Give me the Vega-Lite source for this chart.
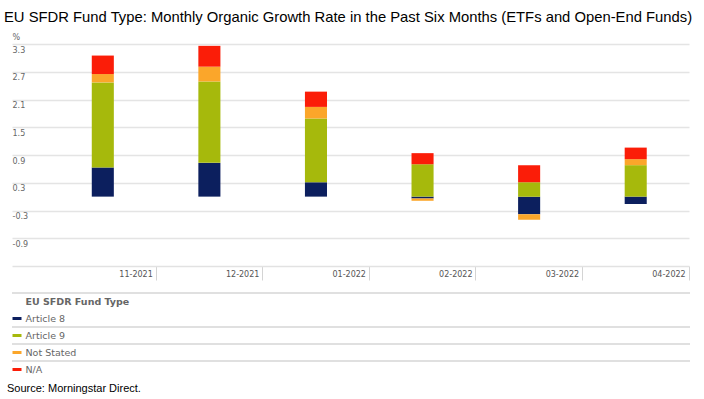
{
  "$schema": "https://vega.github.io/schema/vega-lite/v6.json",
  "background": "white",
  "padding": {"left": 4, "top": 9, "right": 10, "bottom": 4},
  "title": {
    "text": "EU SFDR Fund Type: Monthly Organic Growth Rate in the Past Six Months (ETFs and Open-End Funds)",
    "anchor": "start",
    "font": "Liberation Sans",
    "fontSize": 14.8,
    "fontWeight": "normal",
    "color": "#000000",
    "offset": 8.5
  },
  "config": {"view": {"stroke": null}, "concat": {"spacing": 11}},
  "datasets": {
    "flows": [
      {"month": "11-2021", "type": "Article 8", "growth": 0.63},
      {"month": "11-2021", "type": "Article 9", "growth": 1.84},
      {"month": "11-2021", "type": "Not Stated", "growth": 0.18},
      {"month": "11-2021", "type": "N/A", "growth": 0.40},
      {"month": "12-2021", "type": "Article 8", "growth": 0.73},
      {"month": "12-2021", "type": "Article 9", "growth": 1.76},
      {"month": "12-2021", "type": "Not Stated", "growth": 0.32},
      {"month": "12-2021", "type": "N/A", "growth": 0.45},
      {"month": "01-2022", "type": "Article 8", "growth": 0.31},
      {"month": "01-2022", "type": "Article 9", "growth": 1.38},
      {"month": "01-2022", "type": "Not Stated", "growth": 0.25},
      {"month": "01-2022", "type": "N/A", "growth": 0.33},
      {"month": "02-2022", "type": "Article 8", "growth": -0.04},
      {"month": "02-2022", "type": "Article 9", "growth": 0.70},
      {"month": "02-2022", "type": "Not Stated", "growth": -0.05},
      {"month": "02-2022", "type": "N/A", "growth": 0.24},
      {"month": "03-2022", "type": "Article 8", "growth": -0.38},
      {"month": "03-2022", "type": "Article 9", "growth": 0.31},
      {"month": "03-2022", "type": "Not Stated", "growth": -0.12},
      {"month": "03-2022", "type": "N/A", "growth": 0.37},
      {"month": "04-2022", "type": "Article 8", "growth": -0.16},
      {"month": "04-2022", "type": "Article 9", "growth": 0.68},
      {"month": "04-2022", "type": "Not Stated", "growth": 0.13},
      {"month": "04-2022", "type": "N/A", "growth": 0.25}
    ],
    "legendRows": [
      {"label": "EU SFDR Fund Type"},
      {"label": "Article 8"},
      {"label": "Article 9"},
      {"label": "Not Stated"},
      {"label": "N/A"}
    ]
  },
  "vconcat": [
    {
      "width": 677,
      "height": 222,
      "data": {"name": "flows"},
      "transform": [
        {"calculate": "indexof(['Article 8','Article 9','Not Stated','N/A'], datum.type)", "as": "stackOrder"}
      ],
      "mark": {"type": "bar", "width": {"band": 0.207}},
      "encoding": {
        "x": {
          "field": "month",
          "type": "nominal",
          "sort": null,
          "scale": {"paddingInner": 0, "paddingOuter": 0.176, "align": 1},
          "axis": {
            "title": null,
            "bandPosition": 1,
            "labelAngle": 0,
            "labelAlign": "right",
            "labelBaseline": "top",
            "labelOffset": 50,
            "labelPadding": -10,
            "labelFont": "DejaVu Sans",
            "labelFontSize": 8,
            "labelColor": "#555555",
            "tickSize": 14,
            "tickColor": "#d4d4d4",
            "domainColor": "#e2e2e2",
            "domainWidth": 1.5,
            "grid": false
          }
        },
        "y": {
          "field": "growth",
          "type": "quantitative",
          "stack": "zero",
          "scale": {"domain": [-1.5, 3.3], "nice": false, "zero": false},
          "axis": {
            "title": "%",
            "titleAngle": 0,
            "titleAlign": "left",
            "titleBaseline": "middle",
            "titleX": 0,
            "titleY": -7,
            "titleFont": "DejaVu Sans",
            "titleFontSize": 8,
            "titleFontWeight": "normal",
            "titleColor": "#666666",
            "values": [-0.9, -0.3, 0.3, 0.9, 1.5, 2.1, 2.7, 3.3],
            "format": ".1f",
            "labelExpr": "replace(datum.label, '\u2212', '-')",
            "grid": true,
            "gridColor": "#e4e4e4",
            "gridWidth": 1.3,
            "domain": false,
            "ticks": false,
            "tickSize": 0,
            "minExtent": 8,
            "labelAlign": "left",
            "labelBaseline": "top",
            "labelPadding": 0,
            "labelOffset": 2,
            "labelFont": "DejaVu Sans",
            "labelFontSize": 8,
            "labelColor": "#666666"
          }
        },
        "color": {
          "field": "type",
          "type": "nominal",
          "scale": {
            "domain": ["Article 8", "Article 9", "Not Stated", "N/A"],
            "range": ["#0c1f5e", "#a6b90c", "#fba62a", "#fb1d08"]
          },
          "legend": null
        },
        "order": {"field": "stackOrder", "type": "quantitative"}
      }
    },
    {
      "width": 678,
      "height": 85,
      "data": {"name": "legendRows"},
      "transform": [{"filter": "datum.label != 'Article 8'"}],
      "mark": {"type": "rule", "color": "#d6d6d6", "strokeWidth": 1.5},
      "encoding": {
        "y": {
          "field": "label",
          "type": "nominal",
          "bandPosition": 0,
          "scale": {
            "domain": ["EU SFDR Fund Type", "Article 8", "Article 9", "Not Stated", "N/A"],
            "paddingInner": 0,
            "paddingOuter": 0
          },
          "axis": {
            "title": null,
            "orient": "left",
            "domain": false,
            "grid": false,
            "bandPosition": 0.5,
            "minExtent": 7,
            "tickSize": -9,
            "tickWidth": 3,
            "tickColor": {
              "condition": [
                {"test": "datum.value == 'Article 8'", "value": "#0c1f5e"},
                {"test": "datum.value == 'Article 9'", "value": "#a6b90c"},
                {"test": "datum.value == 'Not Stated'", "value": "#fba62a"},
                {"test": "datum.value == 'N/A'", "value": "#fb1d08"}
              ],
              "value": "#ffffff"
            },
            "tickOpacity": {"condition": {"test": "datum.value == 'EU SFDR Fund Type'", "value": 0}, "value": 1},
            "labelAlign": "left",
            "labelBaseline": "middle",
            "labelPadding": -4,
            "labelFont": "DejaVu Sans",
            "labelFontSize": 9.5,
            "labelColor": "#666666",
            "labelFontWeight": {"condition": {"test": "datum.value == 'EU SFDR Fund Type'", "value": "bold"}, "value": "normal"}
          }
        }
      },
      "title": {
        "text": "Source: Morningstar Direct.",
        "orient": "bottom",
        "anchor": "start",
        "dx": 2,
        "font": "Liberation Sans",
        "fontSize": 11,
        "fontWeight": "normal",
        "color": "#000000",
        "offset": 5
      }
    }
  ]
}
